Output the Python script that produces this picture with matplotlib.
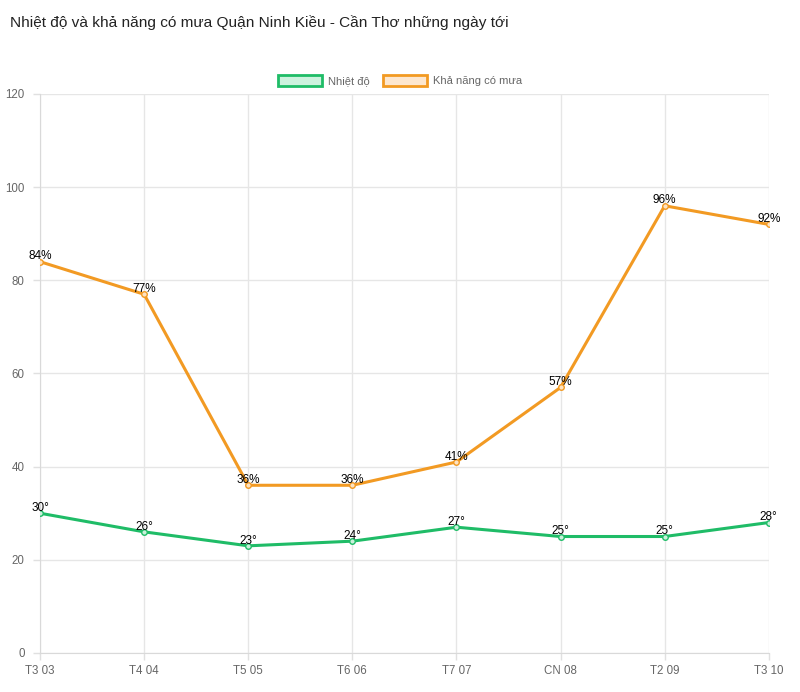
import matplotlib
matplotlib.use('Agg')
import matplotlib.pyplot as plt
from matplotlib.patches import Patch

plt.rcParams['font.family'] = ['Liberation Sans', 'DejaVu Sans']

# Data
days = ['T3 03', 'T4 04', 'T5 05', 'T6 06', 'T7 07', 'CN 08', 'T2 09', 'T3 10']
temp = [30, 26, 23, 24, 27, 25, 25, 28]
rain = [84, 77, 36, 36, 41, 57, 96, 92]

green = '#1fbc67'
orange = '#f29a23'

fig = plt.figure(figsize=(8, 6.92), dpi=100)
ax = fig.add_axes([0.05, 0.0564, 0.911, 0.8078])

x = list(range(len(days)))
ax.plot(x, temp, color=green, lw=2.2, marker='o', ms=4,
        mfc='#c9f0da', mec=green, mew=1, zorder=3)
ax.plot(x, rain, color=orange, lw=2.2, marker='o', ms=4,
        mfc='#fde3c2', mec=orange, mew=1, zorder=3)

# value labels just above each point
for xi, v in zip(x, temp):
    ax.annotate('{}°'.format(v), (xi, v), xytext=(0, -0.5), textcoords='offset points',
                ha='center', va='bottom', fontsize=8.5, color='#000000')
for xi, v in zip(x, rain):
    ax.annotate('{}%'.format(v), (xi, v), xytext=(0, -0.5), textcoords='offset points',
                ha='center', va='bottom', fontsize=8.5, color='#000000')

ax.set_xlim(0, len(days) - 1)
ax.set_ylim(0, 120)
ax.set_xticks(x)
ax.set_xticklabels(days)
ax.set_yticks(range(0, 121, 20))
ax.grid(True, color='#e6e6e6', lw=1)
ax.set_axisbelow(True)
for s in ['top', 'right']:
    ax.spines[s].set_visible(False)
ax.spines['left'].set_color('#d9d9d9')
ax.spines['bottom'].set_color('#d9d9d9')
ax.tick_params(axis='both', colors='#e0e0e0', labelcolor='#666666',
               labelsize=8.3, length=5, width=1)
ax.tick_params(axis='y', pad=6)

# Title
fig.text(0.0125, 0.968, 'Nhiệt độ và khả năng có mưa Quận Ninh Kiều - Cần Thơ những ngày tới',
         fontsize=11.1, color='#222222', va='center')

handles = [Patch(facecolor='#cdf2de', edgecolor=green, lw=2, label='Nhiệt độ'),
           Patch(facecolor='#fde7cf', edgecolor=orange, lw=2, label='Khả năng có mưa')]
fig.legend(handles=handles, loc='center', bbox_to_anchor=(0.5, 0.884), ncol=2,
           frameon=False, fontsize=8, handlelength=4, handleheight=1.2,
           columnspacing=1.2, handletextpad=0.5, labelcolor='#666666')

fig.savefig('out.png', dpi=100)
